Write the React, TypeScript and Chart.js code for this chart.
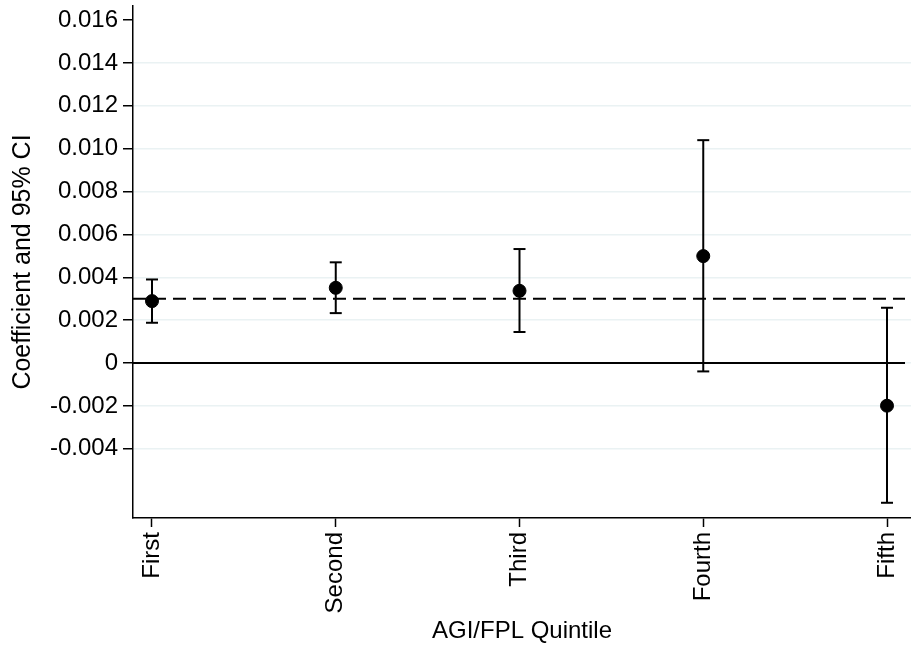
import React, { useEffect, useRef } from "react";
import { Chart, registerables } from "chart.js";

Chart.register(...registerables);

const categories = ["First", "Second", "Third", "Fourth", "Fifth"];
const coefficients = [0.00289, 0.00351, 0.00337, 0.00499, -0.00199];
const ciLower = [0.00188, 0.00233, 0.00145, -0.00039, -0.00652];
const ciUpper = [0.0039, 0.0047, 0.00532, 0.0104, 0.00258];
const yTickValues = [-0.004, -0.002, 0, 0.002, 0.004, 0.006, 0.008, 0.01, 0.012, 0.014, 0.016];
const referenceValue = 0.003;
const xRange = [0.8966, 5.1306];
const yRange = [-0.00723, 0.01666];
const lineEnd = 5.098;

const FONT = "'Liberation Sans', Arial, Helvetica, sans-serif";

export default function App() {
  const ref = useRef<HTMLCanvasElement | null>(null);

  useEffect(() => {
    if (!ref.current) return;
    const errorSets = categories.map((c, i) => ({
      type: "line" as const,
      label: c + " CI",
      data: [
        { x: i + 1, y: ciLower[i] },
        { x: i + 1, y: ciUpper[i] },
      ],
      borderColor: "#000",
      borderWidth: 2,
      pointStyle: "line" as const,
      pointRadius: 6,
      pointBorderWidth: 2,
      pointBorderColor: "#000",
      pointHoverRadius: 6,
      order: 2,
    }));

    const chart = new Chart(ref.current, {
      type: "scatter",
      data: {
        datasets: [
          {
            type: "line",
            label: "zero",
            data: [
              { x: xRange[0], y: 0 },
              { x: lineEnd, y: 0 },
            ],
            borderColor: "#000",
            borderWidth: 2,
            pointRadius: 0,
            order: 4,
          },
          {
            type: "line",
            label: "ref",
            data: [
              { x: xRange[0], y: referenceValue },
              { x: lineEnd, y: referenceValue },
            ],
            borderColor: "#000",
            borderWidth: 2,
            borderDash: [13, 7],
            pointRadius: 0,
            order: 3,
          },
          ...errorSets,
          {
            type: "scatter",
            label: "Coefficient",
            data: coefficients.map((v, i) => ({ x: i + 1, y: v })),
            backgroundColor: "#000",
            borderColor: "#000",
            pointRadius: 6.5,
            pointHoverRadius: 6.5,
            order: 1,
          },
        ] as any,
      },
      options: {
        animation: false,
        responsive: false,
        layout: { autoPadding: false, padding: { top: 6, right: 0, left: 0, bottom: 0 } },
        plugins: { legend: { display: false }, tooltip: { enabled: false } },
        scales: {
          x: {
            type: "linear",
            min: xRange[0],
            max: xRange[1],
            afterBuildTicks: (scale: any) => {
              scale.ticks = categories.map((_, i) => ({ value: i + 1 }));
            },
            afterFit: (scale: any) => {
              scale.height = 132;
              scale.paddingLeft = 0;
              scale.paddingRight = 0;
              scale.paddingTop = 0;
              scale.paddingBottom = 0;
            },
            ticks: {
              autoSkip: false,
              maxRotation: 90,
              minRotation: 90,
              padding: 5,
              color: "#000",
              font: { family: FONT, size: 24 },
              callback: (v: any) => categories[Math.round(Number(v)) - 1] ?? "",
            },
            grid: {
              drawOnChartArea: false,
              drawTicks: true,
              tickLength: 9,
              tickColor: "#000",
              tickWidth: 1.5,
            },
            border: { display: true, color: "#000", width: 1.5 },
            title: {
              display: true,
              text: "AGI/FPL Quintile",
              color: "#000",
              font: { family: FONT, size: 24 },
              padding: { top: 0, bottom: 4 },
            },
          },
          y: {
            type: "linear",
            min: yRange[0],
            max: yRange[1],
            afterBuildTicks: (scale: any) => {
              scale.ticks = yTickValues.map((v) => ({ value: v }));
            },
            afterFit: (scale: any) => {
              scale.width = 133;
              scale.paddingLeft = 0;
              scale.paddingRight = 0;
              scale.paddingTop = 0;
              scale.paddingBottom = 0;
            },
            ticks: {
              autoSkip: false,
              padding: 5,
              color: "#000",
              font: { family: FONT, size: 24 },
              callback: (v: any) => {
                const n = Number(v);
                return Math.abs(n) < 1e-12 ? "0" : n.toFixed(3);
              },
            },
            grid: {
              drawOnChartArea: true,
              drawTicks: true,
              tickLength: 10,
              tickColor: "#000",
              tickWidth: 1.5,
              lineWidth: 1.5,
              color: (ctx: any) =>
                ctx.tick && Math.abs(ctx.tick.value - 0.016) < 1e-9 ? "rgba(0,0,0,0)" : "rgb(234,242,243)",
            },
            border: { display: true, color: "#000", width: 1.5 },
            title: {
              display: true,
              text: "Coefficient and 95% CI",
              color: "#000",
              font: { family: FONT, size: 25 },
              padding: { top: 8, bottom: 0 },
            },
          },
        },
      },
    } as any);
    return () => chart.destroy();
  }, []);

  return (
    <canvas
      ref={ref}
      width={911}
      height={650}
      style={{ position: "absolute", left: 0, top: 0, display: "block", background: "#fff" }}
    />
  );
}
